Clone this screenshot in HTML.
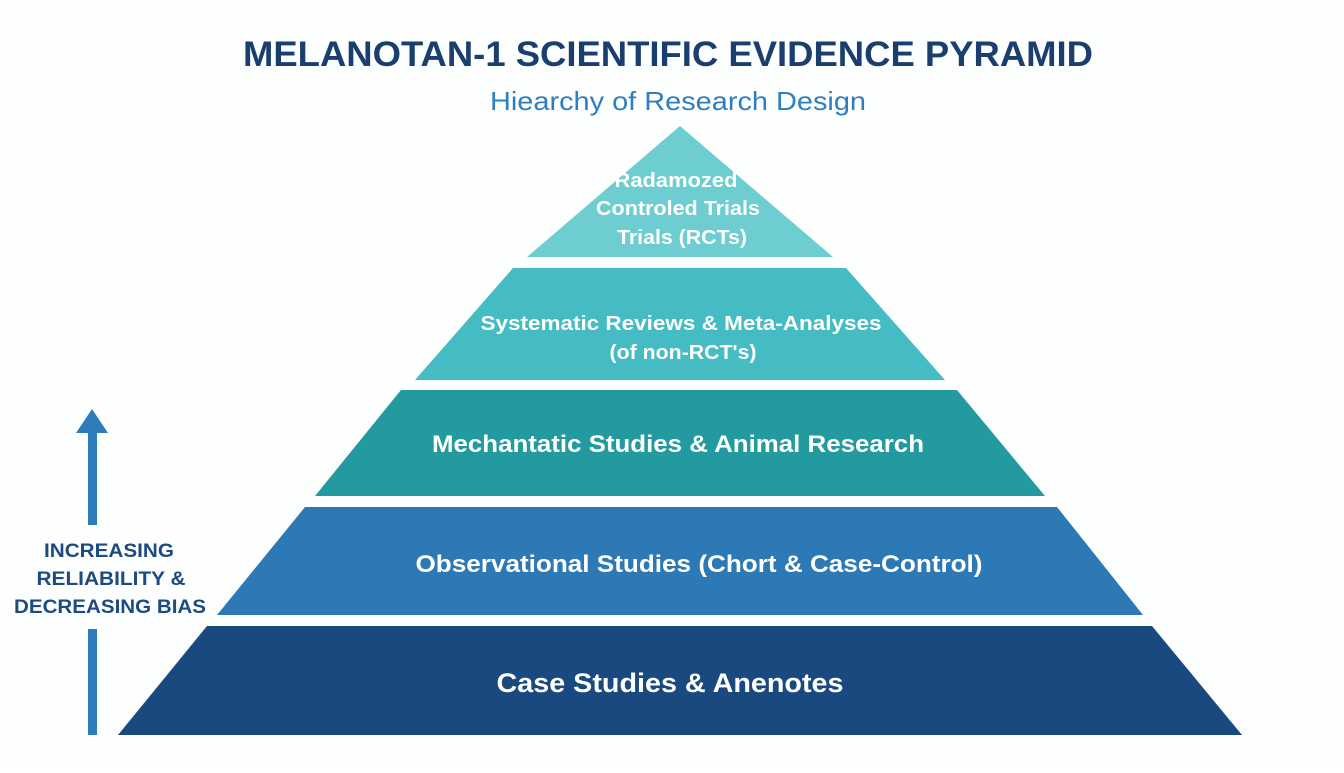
<!DOCTYPE html>
<html><head><meta charset="utf-8"><style>
body{margin:0;background:#fff;}
svg text{font-family:"Liberation Sans",sans-serif;}
</style></head><body>
<svg width="1344" height="768" viewBox="0 0 1344 768" xmlns="http://www.w3.org/2000/svg">
<rect width="1344" height="768" fill="#fdfefe"/>
<text x="668" y="66" text-anchor="middle" font-size="35" font-weight="bold" fill="#1a3f6e" textLength="850" lengthAdjust="spacingAndGlyphs">MELANOTAN-1 SCIENTIFIC EVIDENCE PYRAMID</text>
<text x="678" y="110" text-anchor="middle" font-size="26" fill="#2f7fc0" textLength="376" lengthAdjust="spacingAndGlyphs">Hiearchy of Research Design</text>

<polygon points="680,126 833,257 527,257" fill="#6dcdd0"/>
<polygon points="513,268 846,268 945,380 415,380" fill="#45bcc3"/>
<polygon points="401,390 957,390 1045,496 315,496" fill="#229a9f"/>
<polygon points="305,507 1057,507 1143,615 217,615" fill="#2c79b5"/>
<polygon points="207,626 1152,626 1242,735 118,735" fill="#19497f"/>

<g fill="#fff" text-anchor="middle" font-size="20" font-weight="bold" lengthAdjust="spacingAndGlyphs">
<text x="676" y="187" textLength="123" lengthAdjust="spacingAndGlyphs">Radamozed</text>
<text x="678" y="215" textLength="164" lengthAdjust="spacingAndGlyphs">Controled Trials</text>
<text x="682" y="244" textLength="130" lengthAdjust="spacingAndGlyphs">Trials (RCTs)</text>
<text x="681" y="330" textLength="401" lengthAdjust="spacingAndGlyphs">Systematic Reviews &amp; Meta-Analyses</text>
<text x="683" y="359" textLength="147" lengthAdjust="spacingAndGlyphs">(of non-RCT's)</text>
<text x="678" y="452" font-size="24" textLength="492" lengthAdjust="spacingAndGlyphs">Mechantatic Studies &amp; Animal Research</text>
<text x="699" y="572" font-size="24" textLength="567" lengthAdjust="spacingAndGlyphs">Observational Studies (Chort &amp; Case-Control)</text>
<text x="670" y="692" font-size="27" textLength="347" lengthAdjust="spacingAndGlyphs">Case Studies &amp; Anenotes</text>
</g>

<polygon points="92,409 108,433 76,433" fill="#2f7cbd"/>
<rect x="88" y="432" width="9" height="93" fill="#2f7cbd"/>
<rect x="88" y="629" width="9" height="106" fill="#2f7cbd"/>
<g fill="#1d4a82" font-size="19" font-weight="bold" text-anchor="middle">
<text x="109" y="557" textLength="130" lengthAdjust="spacingAndGlyphs">INCREASING</text>
<text x="111" y="585" textLength="149" lengthAdjust="spacingAndGlyphs">RELIABILITY &amp;</text>
<text x="110" y="613" textLength="192" lengthAdjust="spacingAndGlyphs">DECREASING BIAS</text>
</g>
</svg>
</body></html>
